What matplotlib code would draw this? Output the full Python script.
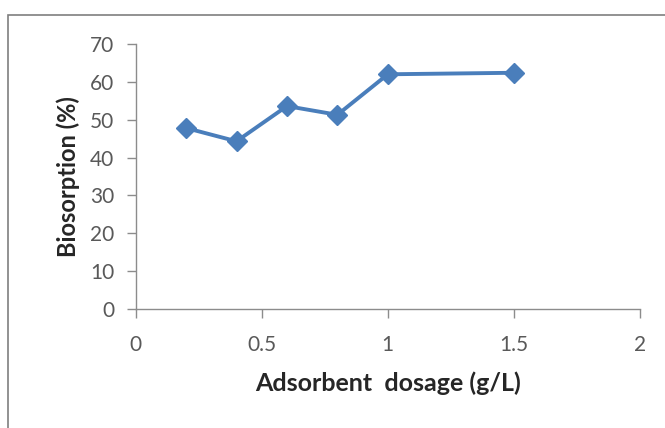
import matplotlib
matplotlib.use('Agg')
import matplotlib.pyplot as plt
from matplotlib.patches import Rectangle

# data
dosage = [0.2, 0.4, 0.6, 0.8, 1.0, 1.5]
biosorption = [47.8, 44.3, 53.6, 51.3, 62.0, 62.4]
xticks = [0, 0.5, 1, 1.5, 2]
xtick_labels = ['0', '0.5', '1', '1.5', '2']
yticks = [0, 10, 20, 30, 40, 50, 60, 70]

plt.rcParams['font.family'] = ['Lato', 'DejaVu Sans']

fig = plt.figure(figsize=(6.65, 4.28), dpi=100)
ax = fig.add_axes([0.2040, 0.2780, 0.7584, 0.6192])

ax.plot(dosage, biosorption, color='#4A7EBB', linewidth=2.8,
        marker='D', markersize=10, markerfacecolor='#4A7EBB',
        markeredgecolor='#4A7EBB', clip_on=False)

ax.set_xlim(0, 2)
ax.set_ylim(0, 70)
ax.set_xticks(xticks)
ax.set_xticklabels(xtick_labels)
ax.set_yticks(yticks)

for side in ['top', 'right']:
    ax.spines[side].set_visible(False)
for side in ['left', 'bottom']:
    ax.spines[side].set_color('#8c8c8c')
    ax.spines[side].set_linewidth(1.0)

ax.tick_params(axis='both', direction='out', length=6.5, width=1.0,
               color='#8c8c8c', labelcolor='#595959', labelsize=15)
ax.tick_params(axis='x', pad=12)
ax.tick_params(axis='y', pad=9)

ax.set_xlabel('Adsorbent  dosage (g/L)', fontsize=18, fontweight='bold',
              color='#262626', labelpad=12)
ax.set_ylabel('Biosorption (%)', fontsize=17, fontweight='bold',
              color='#262626', labelpad=7)

# chart area border (cut off at right and bottom in the original)
fig.add_artist(Rectangle((8 / 665, -0.1), 1.2, 1.1 - 15 / 428,
                         transform=fig.transFigure, fill=False,
                         edgecolor='#7f7f7f', linewidth=1.2))

fig.savefig('out.png', dpi=100)
